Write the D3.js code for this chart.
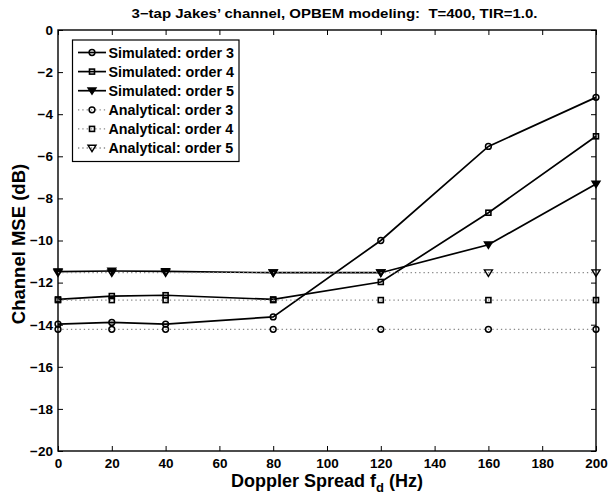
<!DOCTYPE html>
<html>
<head>
<meta charset="utf-8">
<script src="https://cdn.jsdelivr.net/npm/d3@7"></script>
<style>
  body { margin: 0; background: #fff; }
  text { font-family: "Liberation Sans", Arial, sans-serif; font-weight: bold; }
</style>
</head>
<body>
<svg id="chart" width="608" height="494"></svg>
<script>
// Data
const dopplerSim = [0, 20, 40, 80, 120, 160, 200];
const simOrder3 = [-13.97, -13.89, -13.97, -13.63, -10.0, -5.53, -3.2];
const simOrder4 = [-12.8, -12.64, -12.6, -12.8, -11.97, -8.68, -5.05];
const simOrder5 = [-11.48, -11.45, -11.47, -11.53, -11.53, -10.2, -7.32];
const dopplerAna = [0, 20, 40, 80, 120, 160, 200];
const anaOrder3 = [-14.22, -14.22, -14.22, -14.22, -14.22, -14.22, -14.22];
const anaOrder4 = [-12.83, -12.83, -12.83, -12.83, -12.83, -12.83, -12.83];
const anaOrder5 = [-11.53, -11.53, -11.53, -11.53, -11.53, -11.53, -11.53];
const xTicks = [0, 20, 40, 60, 80, 100, 120, 140, 160, 180, 200];
const yTicks = [0, -2, -4, -6, -8, -10, -12, -14, -16, -18, -20];

const series = [
    { name: "Simulated: order 3", x: dopplerSim, y: simOrder3, marker: "circle", dotted: false },
    { name: "Simulated: order 4", x: dopplerSim, y: simOrder4, marker: "square", dotted: false },
    { name: "Simulated: order 5", x: dopplerSim, y: simOrder5, marker: "tri", dotted: false },
    { name: "Analytical: order 3", x: dopplerAna, y: anaOrder3, marker: "circle", dotted: true },
    { name: "Analytical: order 4", x: dopplerAna, y: anaOrder4, marker: "square", dotted: true },
    { name: "Analytical: order 5", x: dopplerAna, y: anaOrder5, marker: "tri", dotted: true }
];

const margin = { left: 58, top: 30, right: 12, bottom: 43 };
const width = 608, height = 494;
const innerW = width - margin.left - margin.right;
const innerH = height - margin.top - margin.bottom;

const svg = d3.select("#chart");
const g = svg.append("g").attr("transform", `translate(${margin.left},${margin.top})`);

const x = d3.scaleLinear().domain([0, 200]).range([0, innerW]);
const y = d3.scaleLinear().domain([-20, 0]).range([innerH, 0]);

// Axes (ticks pointing inward, box with ticks on all sides)
const tickLen = 5;
g.append("g").attr("transform", `translate(0,${innerH})`)
    .call(d3.axisBottom(x).tickValues(xTicks).tickSizeInner(-tickLen).tickSizeOuter(0).tickPadding(7))
    .call(ax => ax.selectAll("text").attr("font-size", "13.5px").attr("fill", "#000"));
g.append("g")
    .call(d3.axisTop(x).tickValues(xTicks).tickSizeInner(-tickLen).tickSizeOuter(0).tickFormat(""));
g.append("g")
    .call(d3.axisLeft(y).tickValues(yTicks).tickSizeInner(-tickLen).tickSizeOuter(0).tickPadding(5)
        .tickFormat(d => d === 0 ? "0" : "\u2212" + Math.abs(d)))
    .call(ax => ax.selectAll("text").attr("font-size", "13.5px").attr("fill", "#000"));
g.append("g").attr("transform", `translate(${innerW},0)`)
    .call(d3.axisRight(y).tickValues(yTicks).tickSizeInner(-tickLen).tickSizeOuter(0).tickFormat(""));
g.selectAll(".domain").remove();
g.selectAll(".tick line").attr("stroke", "#000");
g.append("rect").attr("width", innerW).attr("height", innerH)
    .attr("fill", "none").attr("stroke", "#000").attr("stroke-width", 1.4);

// Markers
function drawMarker(sel, type, filled) {
    if (type === "circle") {
        sel.append("circle").attr("r", 2.9).attr("fill", "none").attr("stroke", "#000").attr("stroke-width", 1.5);
    } else if (type === "square") {
        sel.append("rect").attr("x", -2.5).attr("y", -2.5).attr("width", 5).attr("height", 5)
            .attr("fill", "none").attr("stroke", "#000").attr("stroke-width", 1.6);
    } else {
        sel.append("path").attr("d", "M-4,-2.8L4,-2.8L0,3.6Z")
            .attr("fill", filled ? "#000" : "none").attr("stroke", "#000").attr("stroke-width", 1.4);
    }
}

const line = d3.line().x(d => x(d[0])).y(d => y(d[1]));

series.forEach(s => {
    const pts = s.x.map((v, i) => [v, s.y[i]]);
    g.append("path").datum(pts).attr("d", line)
        .attr("fill", "none")
        .attr("stroke", s.dotted ? "#888" : "#000")
        .attr("stroke-width", s.dotted ? 1.3 : 1.7)
        .attr("stroke-dasharray", s.dotted ? "1.3,3" : null);
    pts.forEach(p => {
        const m = g.append("g").attr("transform", `translate(${x(p[0])},${y(p[1])})`);
        drawMarker(m, s.marker, !s.dotted);
    });
});

// Legend
const legend = svg.append("g");
legend.append("rect").attr("x", 72.5).attr("y", 40).attr("width", 166.5).attr("height", 121.5)
    .attr("fill", "#fff").attr("stroke", "#000").attr("stroke-width", 1.2);
series.forEach((s, i) => {
    const ly = 52.5 + i * 19.1;
    legend.append("line").attr("x1", 78).attr("x2", 106).attr("y1", ly).attr("y2", ly)
        .attr("stroke", s.dotted ? "#888" : "#000")
        .attr("stroke-width", s.dotted ? 1.3 : 1.7)
        .attr("stroke-dasharray", s.dotted ? "1.3,3" : null);
    const m = legend.append("g").attr("transform", `translate(92,${ly})`);
    drawMarker(m, s.marker, !s.dotted);
    legend.append("text").attr("x", 108.5).attr("y", ly + 5)
        .attr("font-size", "14.3px").text(s.name);
});

// Title and labels
svg.append("text").attr("x", 131.5).attr("y", 18)
    .attr("font-size", "12.5px")
    .attr("textLength", 406).attr("lengthAdjust", "spacingAndGlyphs")
    .style("white-space", "pre")
    .text("3\u2212tap Jakes\u2019 channel, OPBEM modeling:  T=400, TIR=1.0.");

const xl = svg.append("text").attr("x", 327).attr("y", 487)
    .attr("text-anchor", "middle").attr("font-size", "18px");
xl.append("tspan").text("Doppler Spread f");
xl.append("tspan").attr("font-size", "13px").attr("dy", 5).text("d");
xl.append("tspan").attr("dy", -5).text(" (Hz)");

svg.append("text").attr("transform", `translate(25,244) rotate(-90)`)
    .attr("text-anchor", "middle").attr("font-size", "18.5px")
    .text("Channel MSE (dB)");
</script>
</body>
</html>
